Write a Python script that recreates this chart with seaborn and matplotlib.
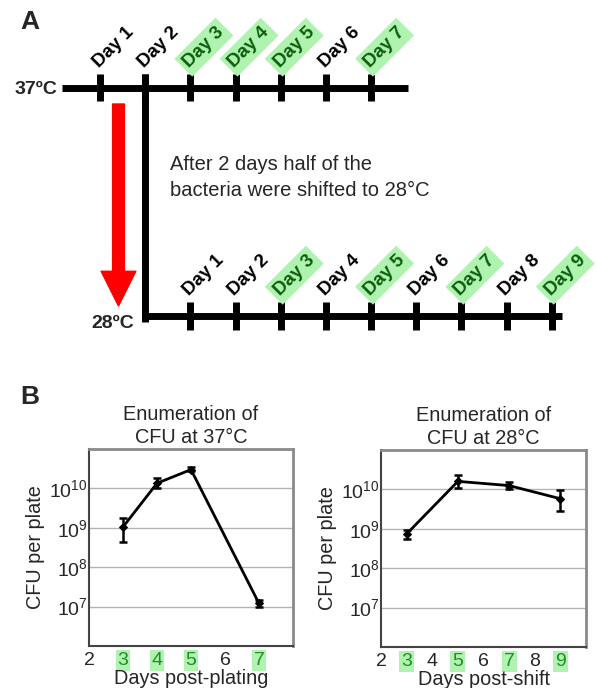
import matplotlib
matplotlib.use('Agg')
import matplotlib.pyplot as plt
import seaborn as sns
import numpy as np
import pandas as pd

sns.set_theme(style='white')
plt.rcParams['font.family'] = ['Liberation Sans', 'DejaVu Sans']
plt.rcParams['mathtext.fontset'] = 'custom'
plt.rcParams['mathtext.rm'] = 'Liberation Sans'
plt.rcParams['mathtext.it'] = 'Liberation Sans:italic'
plt.rcParams['mathtext.bf'] = 'Liberation Sans:bold'

# ---------------- Panel A data ----------------
days_37 = [1, 2, 3, 4, 5, 6, 7]
hl_37 = [3, 4, 5, 7]
days_28 = [1, 2, 3, 4, 5, 6, 7, 8, 9]
hl_28 = [3, 5, 7, 9]
shift_day = 2
label_37 = "37ºC"
label_28 = "28ºC"
shift_text = "After 2 days half of the\nbacteria were shifted to 28°C"

# ---------------- Panel B data ----------------
days_b37 = [3, 4, 5, 7]
cfu_37 = [1.05e9, 1.35e10, 3.0e10, 1.2e7]
lo_37 = [4.3e8, 1.05e10, 2.7e10, 1.0e7]
hi_37 = [1.8e9, 1.8e10, 3.4e10, 1.5e7]
xt_37 = [2, 3, 4, 5, 6, 7]
hl_b37 = [3, 4, 5, 7]

days_b28 = [3, 5, 7, 9]
cfu_28 = [7.4e8, 1.6e10, 1.25e10, 5.8e9]
lo_28 = [5.5e8, 1.1e10, 1.05e10, 2.8e9]
hi_28 = [9.5e8, 2.3e10, 1.5e10, 9.5e9]
xt_28 = [2, 3, 4, 5, 6, 7, 8, 9]
hl_b28 = [3, 5, 7, 9]

yticks = [1e7, 1e8, 1e9, 1e10]
ytick_labels = [r'$10^{7}$', r'$10^{8}$', r'$10^{9}$', r'$10^{10}$']

GREEN_BG = '#b0f2b0'
GREEN_TXT_A = '#0b5e0b'
GREEN_TXT_B = '#1f8f1f'

W, H = 596, 688
fig = plt.figure(figsize=(W / 100, H / 100), dpi=100)

# ---------------- Panel A ----------------
ax_a = fig.add_axes([0, 0, 1, 1])
px_per_day = 45.17
x0_px = 100.0


def d2x(px):
    return 1 + (px - x0_px) / px_per_day


ax_a.set_xlim(d2x(0), d2x(W))
ax_a.set_ylim(H, 0)
ax_a.axis('off')
ax_a.patch.set_alpha(0)

y_top, y_bot = 88, 316
lw = 5

# top timeline
ax_a.hlines(y_top, d2x(62), d2x(408), color='black', lw=lw)
ax_a.vlines(days_37, y_top - 14, y_top + 13, color='black', lw=lw)
# shift line
ax_a.vlines(shift_day, y_top - 14, y_bot + 6, color='black', lw=lw)
# bottom timeline
xb = [d + shift_day for d in days_28]
ax_a.hlines(y_bot, shift_day - 0.05, d2x(562), color='black', lw=lw)
ax_a.vlines(xb, y_bot - 14, y_bot + 14, color='black', lw=lw)


def day_label(x, y, d, hl):
    kw = dict(rotation=45, rotation_mode='anchor', ha='left', va='baseline',
              fontsize=13.5, fontweight='bold')
    if hl:
        kw.update(color=GREEN_TXT_A,
                  bbox=dict(boxstyle='square,pad=0.22', fc=GREEN_BG, ec='none'))
    else:
        kw.update(color='black')
    ax_a.text(x - 0.02, y, f"Day {d}", **kw)


for d in days_37:
    day_label(d, y_top - 20, d, d in hl_37)
for d, x in zip(days_28, xb):
    day_label(x, y_bot - 20, d, d in hl_28)

ax_a.text(d2x(57), y_top + 1, label_37, ha='right', va='center',
          fontsize=14, fontweight='bold')
ax_a.text(d2x(134), y_bot + 7, label_28, ha='right', va='center',
          fontsize=14, fontweight='bold')
ax_a.text(d2x(170), 177.5, shift_text, ha='left', va='center',
          fontsize=14.5, linespacing=1.5)

# red arrow
ax_a.annotate('', xy=(d2x(118.5), 306), xytext=(d2x(118.5), 104),
              arrowprops=dict(arrowstyle='simple,head_width=2.5,head_length=2.5,tail_width=0.85',
                              color='red', shrinkA=0, shrinkB=0, mutation_scale=10))

fig.text(20 / W, 1 - 22 / H, 'A', fontsize=19, fontweight='bold', va='center', ha='left')
fig.text(20 / W, 1 - 397 / H, 'B', fontsize=19, fontweight='bold', va='center', ha='left')

# ---------------- Panel B ----------------


def panel(rect, days, cfu, lo, hi, xt, hl, xlim, title, xlabel):
    ax = fig.add_axes(rect)
    df = pd.DataFrame({'day': days, 'cfu': cfu})
    sns.lineplot(data=df, x='day', y='cfu', ax=ax, color='black', lw=2,
                 marker='D', markersize=4, markeredgecolor='black')
    cfu_a = np.array(cfu)
    ax.errorbar(days, cfu, yerr=[cfu_a - np.array(lo), np.array(hi) - cfu_a],
                fmt='none', ecolor='black', elinewidth=1.8, capsize=3, capthick=1.8)
    ax.set_yscale('log')
    ax.set_ylim(1e6, 1e11)
    ax.set_xlim(*xlim)
    ax.set_yticks(yticks)
    ax.set_yticklabels(ytick_labels)
    ax.minorticks_off()
    ax.set_xticks(xt)
    ax.set_xticklabels([str(v) for v in xt])
    for t, v in zip(ax.get_xticklabels(), xt):
        if v in hl:
            t.set_color(GREEN_TXT_B)
            t.set_bbox(dict(boxstyle='square,pad=0.1', fc=GREEN_BG, ec='none'))
    ax.tick_params(axis='both', labelsize=14, length=0)
    ax.tick_params(axis='x', pad=4)
    ax.tick_params(axis='y', pad=1)
    ax.grid(axis='y', color='#b4b4b4', lw=1)
    ax.grid(axis='x', visible=False)
    for s in ['top', 'right']:
        ax.spines[s].set_color('#8a8a8a')
        ax.spines[s].set_linewidth(2)
    for s in ['left', 'bottom']:
        ax.spines[s].set_color('#444444')
        ax.spines[s].set_linewidth(1.5)
    ax.set_title(title, fontsize=14.3, pad=4, linespacing=1.3)
    ax.set_xlabel(xlabel, fontsize=14.3, labelpad=0)
    ax.set_ylabel('CFU per plate', fontsize=14.3, labelpad=3)
    return ax


panel([89 / W, 1 - 646 / H, 204 / W, 197 / H], days_b37, cfu_37, lo_37, hi_37,
      xt_37, hl_b37, (2, 8), 'Enumeration of\nCFU at 37°C', 'Days post-plating')
panel([381 / W, 1 - 647 / H, 205 / W, 197 / H], days_b28, cfu_28, lo_28, hi_28,
      xt_28, hl_b28, (2, 10), 'Enumeration of\nCFU at 28°C', 'Days post-shift')

fig.savefig('out.png', dpi=100)
